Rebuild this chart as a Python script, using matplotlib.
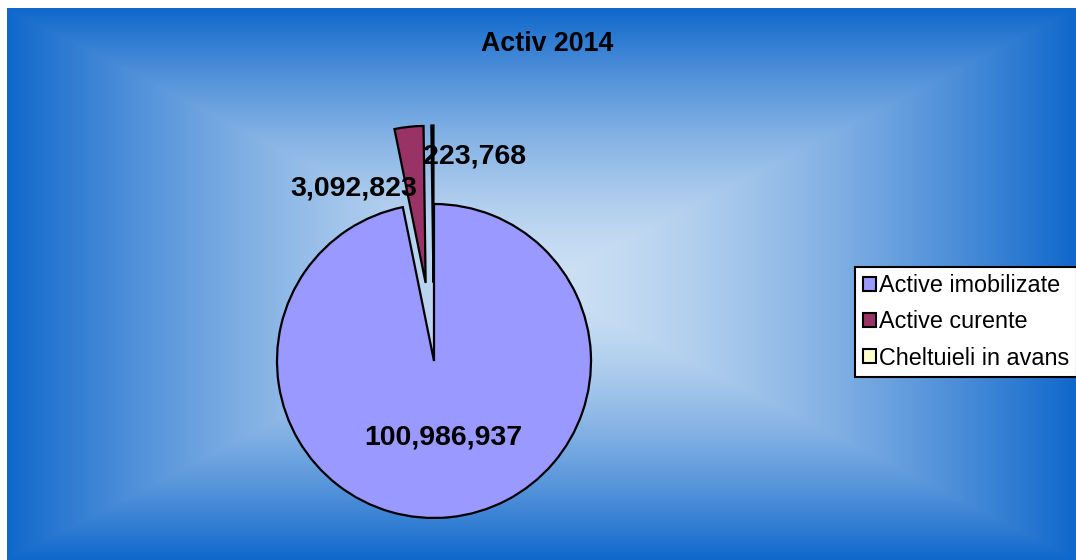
import numpy as np
import matplotlib
matplotlib.use("Agg")
import matplotlib.pyplot as plt

plt.rcParams["font.family"] = ["Liberation Sans", "DejaVu Sans"]

# data
title = "Activ 2014"
categories = ["Active imobilizate", "Active curente", "Cheltuieli in avans"]
values = [100986937, 3092823, 223768]
colors = ["#9999ff", "#993366", "#ffffcc"]
explode = [0.0, 0.5, 0.5]

W, H = 1076, 560
fig = plt.figure(figsize=(W / 100, H / 100), dpi=100, facecolor="white")

# background: rectangular gradient, light centre -> blue edges
bg = fig.add_axes([7 / W, 0, 1 - 7 / W, 1 - 8 / H], zorder=0)
ny, nx = 276, 535
yy, xx = np.mgrid[-1:1:ny * 1j, -1:1:nx * 1j]
t = np.maximum(np.abs(xx), np.abs(yy)) ** 1.5
edge = np.array([16, 104, 204]) / 255
centre = np.array([206, 225, 244]) / 255
img = centre[None, None, :] * (1 - t[..., None]) + edge[None, None, :] * t[..., None]
bg.imshow(img, aspect="auto", interpolation="bilinear")
bg.axis("off")

# pie: centre at pixel (434, 361), radius 157 px -> 1 data unit
R, cx, cy = 157, 434, 361
ax = fig.add_axes([0, 0, 1, 1], zorder=1)
ax.patch.set_alpha(0)
wedges, _ = ax.pie(values, colors=colors, explode=explode, startangle=90,
                   counterclock=False,
                   wedgeprops=dict(edgecolor="black", linewidth=1.6))
ax.set_aspect("auto")
ax.set_xlim(-cx / R, (W - cx) / R)
ax.set_ylim(-(H - cy) / R, cy / R)
ax.axis("off")

label_pos = [(0.06, -0.49), (-0.51, 1.10), (0.26, 1.30)]
for v, (lx, ly) in zip(values, label_pos):
    ax.text(lx, ly, f"{v:,}", ha="center", va="center", fontsize=20.5,
            fontweight="bold", color="black")

fig.text(547 / W, 1 - 44 / H, title, ha="center", va="center",
         fontsize=19.3, fontweight="bold")

leg = fig.legend(wedges, categories, loc="center left",
                 bbox_to_anchor=(855 / W, 1 - 322 / H), fontsize=16.8,
                 handlelength=0.55, handleheight=0.55, handletextpad=0.15,
                 labelspacing=0.56, borderpad=0.33, borderaxespad=0,
                 fancybox=False, framealpha=1, edgecolor="black")
leg.get_frame().set_linewidth(1.5)
for h in leg.legend_handles:
    h.set_linewidth(1.5)

fig.savefig("out.png", dpi=100)
